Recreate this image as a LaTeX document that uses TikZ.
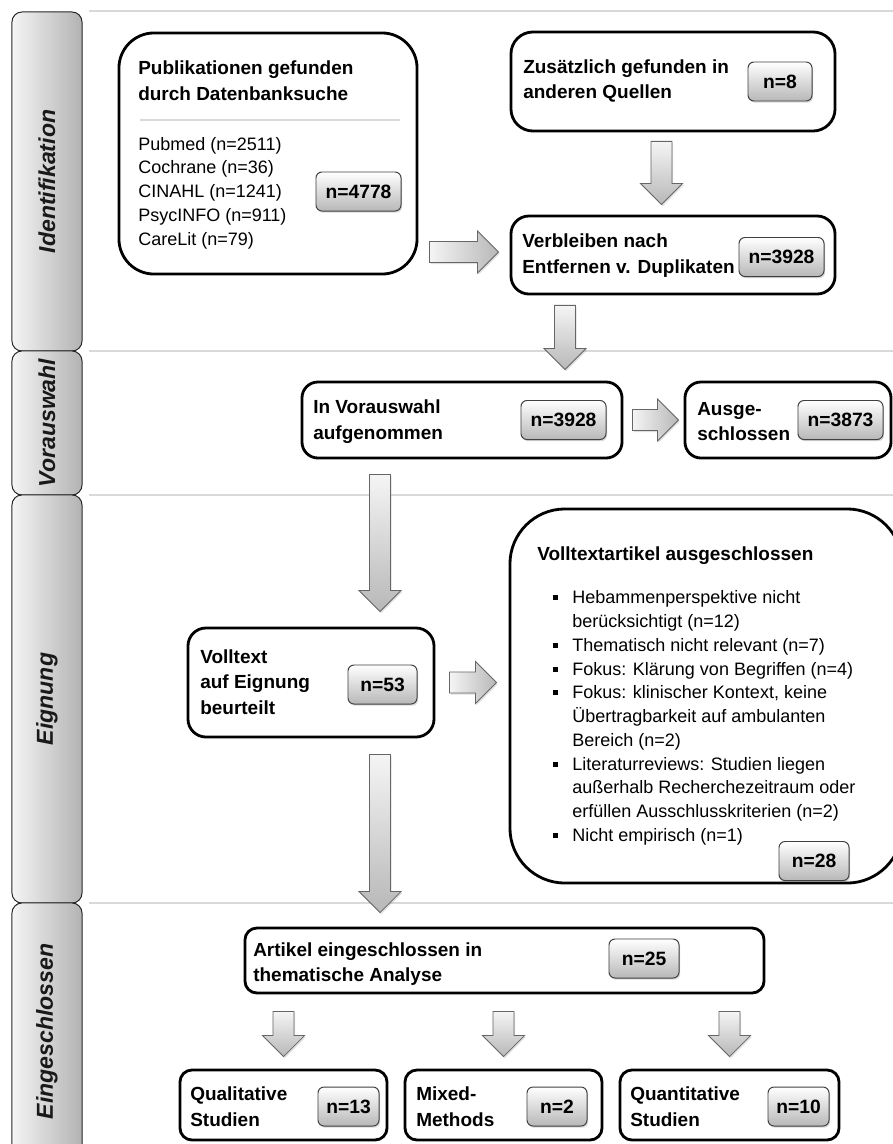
\documentclass[tikz,border=0pt]{standalone}
\usepackage{fontspec}
\setmainfont{Liberation Sans}
\usetikzlibrary{calc,shadows}

\tikzset{
  flowbox/.style={draw=black, line width=2pt, fill=white, inner sep=0},
  countbox/.style={draw=black!75, line width=0.7pt, rounded corners=0.15cm, top color=white, bottom color=black!28,
    inner sep=0, minimum height=0.975cm, font=\fontsize{13.7}{16}\selectfont\bfseries,
    drop shadow={shadow xshift=0.8pt, shadow yshift=-1.2pt, opacity=0.3}},
  phasetab/.style={draw=black!85, line width=0.7pt, rounded corners=0.25cm, left color=black!4, right color=black!30,
    inner sep=0, minimum width=1.75cm},
  phaselabel/.style={rotate=90, inner sep=0, font=\fontsize{16.4}{18}\selectfont\bfseries\itshape, text=black!90},
  phaseline/.style={draw=black!15, line width=2pt},
  headtext/.style={anchor=west, align=left, inner sep=0, font=\fontsize{13.5}{18.2}\selectfont\bfseries},
  listtext/.style={anchor=west, align=left, inner sep=0, font=\fontsize{12.8}{16.9}\selectfont},
  blockarrow/.style={draw=black!60, line width=0.6pt,
    drop shadow={shadow xshift=0.8pt, shadow yshift=-1.2pt, opacity=0.25}}
}

\newcommand{\arrowdown}[2]{%
  \draw[blockarrow, top color=black!4, bottom color=black!28] let \p1=#1, \p2=#2 in
    (\x1-7.5pt,\y1) -- (\x1+7.5pt,\y1) -- (\x1+7.5pt,\y2+15pt) -- (\x1+15pt,\y2+15pt)
    -- (\x1,\y2) -- (\x1-15pt,\y2+15pt) -- (\x1-7.5pt,\y2+15pt) -- cycle;}
\newcommand{\arrowright}[2]{%
  \draw[blockarrow, left color=black!4, right color=black!28] let \p1=#1, \p2=#2 in
    (\x1,\y1+7.5pt) -- (\x2-15pt,\y1+7.5pt) -- (\x2-15pt,\y1+15pt) -- (\x2,\y1)
    -- (\x2-15pt,\y1-15pt) -- (\x2-15pt,\y1-7.5pt) -- (\x1,\y1-7.5pt) -- cycle;}
\newcommand{\listmark}{\llap{\rule[2.5pt]{3.5pt}{3.5pt}\hspace{10pt}}}

\begin{document}
\begin{tikzpicture}[x=0.025cm, y=-0.025cm]
        % Phases, boxes and arrows:
        \useasboundingbox (0,0) rectangle (893,1144);
        \clip (0,0) rectangle (893,1144);
        \draw[phaseline] (89,11) -- (893,11);
        \draw[phaseline] (89,351) -- (893,351);
        \draw[phaseline] (89,495) -- (893,495);
        \draw[phaseline] (89,903) -- (893,903);
        \node[phasetab, minimum height=8.475cm](Tab1) at (47,181.5){};
        \node[phasetab, minimum height=3.6cm](Tab2) at (47,423){};
        \node[phasetab, minimum height=10.2cm](Tab3) at (47,699){};
        \node[phasetab, minimum height=6.425cm](Tab4) at (47,1031.5){};
        \node[phaselabel](Label1) at (Tab1.center){Identifikation};
        \node[phaselabel](Label2) at (Tab2.center){Vorauswahl};
        \node[phaselabel](Label3) at (Tab3.center){Eignung};
        \node[phaselabel](Label4) at (Tab4.center){Eingeschlossen};
        \node[flowbox, rounded corners=0.875cm, minimum width=7.45cm, minimum height=6.025cm](Box1) at (268,153.5){};
        \node[flowbox, rounded corners=0.55cm, minimum width=8.1cm, minimum height=2.475cm](Box2) at (673,81.5){};
        \node[flowbox, rounded corners=0.45cm, minimum width=8.1cm, minimum height=1.95cm](Box3) at (673,255){};
        \node[flowbox, rounded corners=0.4cm, minimum width=8cm, minimum height=1.9cm](Box4) at (462,420){};
        \node[flowbox, rounded corners=0.4cm, minimum width=5.15cm, minimum height=1.9cm](Box5) at (788,420){};
        \node[flowbox, rounded corners=0.45cm, minimum width=6.15cm, minimum height=2.725cm](Box6) at (311,682.5){};
        \node[flowbox, rounded corners=1.375cm, minimum width=9.8cm, minimum height=9.35cm](Box7) at (706,696){};
        \node[flowbox, rounded corners=0.3cm, minimum width=12.975cm, minimum height=1.625cm](Box8) at (504.5,960.5){};
        \node[flowbox, rounded corners=0.3cm, minimum width=5.175cm, minimum height=1.75cm](Box9) at (283.5,1105){};
        \node[flowbox, rounded corners=0.3cm, minimum width=4.925cm, minimum height=1.75cm](Box10) at (503.5,1105){};
        \node[flowbox, rounded corners=0.3cm, minimum width=5.475cm, minimum height=1.75cm](Box11) at (729.5,1105){};
        \draw[draw=black!15, line width=2pt] (140,120) -- (400,120);
        \node[headtext](Head1) at (138,81){Publikationen gefunden\\durch Datenbanksuche};
        \node[listtext](List1) at (138,193){Pubmed (n=2511)\\Cochrane (n=36)\\CINAHL (n=1241)\\PsycINFO (n=911)\\CareLit (n=79)};
        \node[headtext](Head2) at (523,81){Zusätzlich gefunden in\\anderen Quellen};
        \node[headtext](Head3) at (522,255.5){Verbleiben nach\\Entfernen v. Duplikaten};
        \node[headtext](Head4) at (313,421.5){In Vorauswahl\\aufgenommen};
        \node[headtext](Head5) at (697,421.5){Ausge-\\schlossen};
        \node[headtext](Head6) at (200,682){Volltext\\auf Eignung\\beurteilt};
        \node[headtext](Head7) at (537,556){Volltextartikel ausgeschlossen};
        \node[listtext](List7) at (572,718){\listmark Hebammenperspektive nicht\\berücksichtigt (n=12)\\\listmark Thematisch nicht relevant (n=7)\\\listmark Fokus: Klärung von Begriffen (n=4)\\\listmark Fokus: klinischer Kontext, keine\\Übertragbarkeit auf ambulanten\\Bereich (n=2)\\\listmark Literaturreviews: Studien liegen\\außerhalb Recherchezeitraum oder\\erfüllen Ausschlusskriterien (n=2)\\\listmark Nicht empirisch (n=1)};
        \node[headtext](Head8) at (253,964){Artikel eingeschlossen in\\thematische Analyse};
        \node[headtext](Head9) at (190,1106.5){Qualitative\\Studien};
        \node[headtext](Head10) at (416,1106.5){Mixed-\\Methods};
        \node[headtext](Head11) at (630,1106.5){Quantitative\\Studien};
        \node[countbox, minimum width=2.125cm](Count1) at (358.5,191.5){n=4778};
        \node[countbox, minimum width=1.6cm](Count2) at (780,81.5){n=8};
        \node[countbox, minimum width=2.125cm](Count3) at (781.5,257){n=3928};
        \node[countbox, minimum width=2.125cm](Count4) at (563.5,420){n=3928};
        \node[countbox, minimum width=2.125cm](Count5) at (840.5,420){n=3873};
        \node[countbox, minimum width=1.725cm](Count6) at (382.5,684.5){n=53};
        \node[countbox, minimum width=1.75cm](Count7) at (814,861){n=28};
        \node[countbox, minimum width=1.75cm](Count8) at (644,958.5){n=25};
        \node[countbox, minimum width=1.525cm](Count9) at (348.5,1106.5){n=13};
        \node[countbox, minimum width=1.5cm](Count10) at (557,1106.5){n=2};
        \node[countbox, minimum width=1.525cm](Count11) at (798.5,1106.5){n=10};
        \arrowright{($(Box1.east |- Box3.west)+(11,-3)$)}{($(Box3.west)+(-11,-3)$)}
        \arrowdown{($(Box2.south)+(-11.5,9)$)}{($(Box3.north)+(-11.5,-10)$)}
        \arrowdown{($(Box3.south -| Box4.north)+(103,10)$)}{($(Box4.north)+(103,-11)$)}
        \arrowright{($(Box4.east)+(9,0)$)}{($(Box5.west)+(-5,0)$)}
        \arrowdown{($(Box4.south)+(-82,15)$)}{($(Box6.north)+(69,-15)$)}
        \arrowright{($(Box6.east)+(14,0)$)}{($(Box7.west |- Box6.east)+(-12,0)$)}
        \arrowdown{($(Box6.south)+(69,16)$)}{($(Box8.north)+(-124.5,-14)$)}
        \arrowdown{($(Box9.north |- Box8.south)+(0,17)$)}{($(Box9.north)+(0,-12)$)}
        \arrowdown{($(Box10.north |- Box8.south)+(0,17)$)}{($(Box10.north)+(0,-12)$)}
        \arrowdown{($(Box11.north |- Box8.south)+(0,17)$)}{($(Box11.north)+(0,-12)$)}
    \end{tikzpicture}
\end{document}
